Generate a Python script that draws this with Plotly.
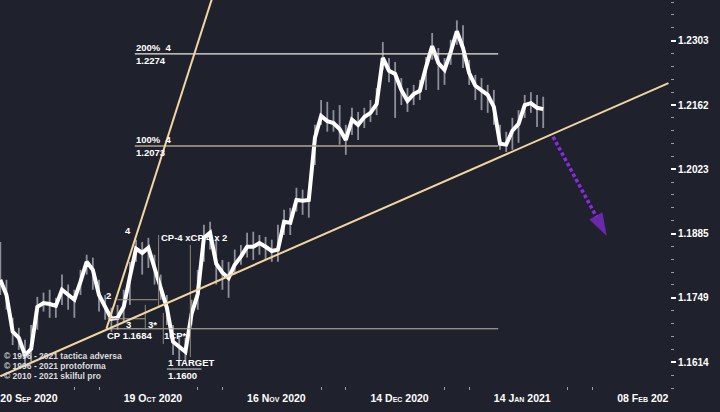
import numpy as np
import plotly.graph_objects as go

# ---------------- data ----------------
close = [1.1787, 1.1755, 1.1678, 1.1665, 1.1629, 1.1642, 1.1730, 1.1738, 1.1736, 1.1732,
         1.1766, 1.1755, 1.1745, 1.1783, 1.1825, 1.1808, 1.1755, 1.1730, 1.1705, 1.1707,
         1.1730, 1.1793, 1.1853, 1.1844, 1.1855, 1.1812, 1.1770, 1.1728, 1.1657, 1.1646,
         1.1636, 1.1715, 1.1757, 1.1876, 1.1887, 1.1821, 1.1802, 1.1791, 1.1819, 1.1836,
         1.1857, 1.1857, 1.1865, 1.1857, 1.1848, 1.1851, 1.1910, 1.1908, 1.1957, 1.1955,
         1.1957, 1.2091, 1.2138, 1.2127, 1.2123, 1.2110, 1.2086, 1.2130, 1.2119, 1.2136,
         1.2145, 1.2164, 1.2265, 1.2237, 1.2230, 1.2195, 1.2171, 1.2186, 1.2193, 1.2245,
         1.2291, 1.2254, 1.2239, 1.2278, 1.2324, 1.2287, 1.2232, 1.2204, 1.2193, 1.2184,
         1.2158, 1.2078, 1.2076, 1.2106, 1.2121, 1.2162, 1.2166, 1.2156, 1.2153]
high = [1.1867, 1.1787, 1.1707, 1.1686, 1.1661, 1.1692, 1.1751, 1.1760, 1.1766, 1.1749,
        1.1798, 1.1777, 1.1766, 1.1808, 1.1840, 1.1834, 1.1787, 1.1755, 1.1728, 1.1734,
        1.1766, 1.1825, 1.1872, 1.1867, 1.1876, 1.1840, 1.1798, 1.1755, 1.1692, 1.1671,
        1.1665, 1.1745, 1.1808, 1.1904, 1.1910, 1.1872, 1.1829, 1.1825, 1.1851, 1.1861,
        1.1887, 1.1889, 1.1882, 1.1878, 1.1872, 1.1904, 1.1936, 1.1940, 1.1983, 1.1979,
        1.1979, 1.2119, 1.2173, 1.2169, 1.2151, 1.2162, 1.2119, 1.2156, 1.2147, 1.2156,
        1.2173, 1.2199, 1.2300, 1.2265, 1.2256, 1.2221, 1.2199, 1.2206, 1.2217, 1.2267,
        1.2320, 1.2287, 1.2265, 1.2305, 1.2348, 1.2337, 1.2261, 1.2228, 1.2221, 1.2206,
        1.2195, 1.2119, 1.2104, 1.2134, 1.2151, 1.2184, 1.2190, 1.2184, 1.2180]
low = [1.1755, 1.1724, 1.1650, 1.1640, 1.1608, 1.1615, 1.1682, 1.1720, 1.1707, 1.1707,
       1.1734, 1.1724, 1.1707, 1.1755, 1.1798, 1.1766, 1.1720, 1.1703, 1.1678, 1.1682,
       1.1699, 1.1734, 1.1825, 1.1798, 1.1812, 1.1777, 1.1745, 1.1692, 1.1629, 1.1619,
       1.1615, 1.1692, 1.1724, 1.1825, 1.1851, 1.1777, 1.1766, 1.1749, 1.1798, 1.1819,
       1.1834, 1.1829, 1.1840, 1.1829, 1.1825, 1.1825, 1.1882, 1.1882, 1.1932, 1.1925,
       1.1919, 1.2032, 1.2119, 1.2104, 1.2104, 1.2076, 1.2054, 1.2097, 1.2086, 1.2112,
       1.2125, 1.2140, 1.2239, 1.2212, 1.2134, 1.2162, 1.2147, 1.2162, 1.2173, 1.2195,
       1.2261, 1.2195, 1.2206, 1.2250, 1.2294, 1.2243, 1.2206, 1.2173, 1.2151, 1.2145,
       1.2119, 1.2065, 1.2060, 1.2065, 1.2080, 1.2134, 1.2145, 1.2114, 1.2112]
bar_index = list(range(len(close)))

x_tick_index = [0, 20, 40, 60, 80, 100]
x_tick_text = ["20 Sep 2020", "19 Oct 2020", "16 Nov 2020", "14 Dec 2020", "14 Jan 2021", "08 Feb 202"]
x_minor_index = [12, 16, 32, 36, 52, 56, 72, 76, 92, 96]
y_tick_values = [1.1614, 1.1749, 1.1885, 1.2023, 1.2162, 1.2303]

# analysis drawing
cp_index, cp_price = 17.2, 1.1684
trend_x, trend_y = [0.0, 108.3], [1.1585, 1.2210]
steep_x, steep_y = [17.2, 34.8], [1.1684, 1.2417]
fib_labels = ["200%  4", "100%  4"]
fib_values = [1.2274, 1.2073]
fib_x = [21.8, 80.7]
cp_line_x = [17.2, 80.7]
short_lines = [([19.0, 25.5], 1.1745), ([17.4, 23.5], 1.1705)]
vert_lines = [(25.66, 1.1728, 1.1882), (23.5, 1.1682, 1.1734), (26.42, 1.1652, 1.1717), (30.8, 1.1625, 1.1861)]
target_price = 1.1600
target_x = [27.0, 32.6]
wave_labels = [("2", 17.5, 1.1753), ("4", 20.7, 1.1891), ("3", 20.7, 1.1692), ("3*", 24.6, 1.1692)]
arrow_x, arrow_y = [89.6, 98.3], [1.2093, 1.1880]
copyright_lines = ["© 1996 - 2021 tactica adversa", "© 1996 - 2021 protoforma", "© 2010 - 2021 skilful pro"]

# ---------------- styling ----------------
BG = "#1f222c"
TAN = "#f2d6a0"
FONT = "Liberation Sans"
PLOT_H = 390
LOG_TOP = 0.093180
LOG_PER_PX = 0.00007783

fig = go.Figure()

# high-low bars
bx, by = [], []
for i, h, l in zip(bar_index, high, low):
    bx += [i, i, None]
    by += [l, h, None]
fig.add_trace(go.Scatter(x=bx, y=by, mode="lines", line=dict(color="rgba(215,218,228,0.6)", width=1.8),
                         hoverinfo="skip"))

# close line
fig.add_trace(go.Scatter(x=bar_index, y=close, mode="lines",
                         line=dict(color="#ffffff", width=4)))

# horizontal levels
fig.add_trace(go.Scatter(x=fib_x, y=[fib_values[0]] * 2, mode="lines", line=dict(color="#eceae4", width=1.2)))
fig.add_trace(go.Scatter(x=fib_x, y=[fib_values[1]] * 2, mode="lines", line=dict(color="#b2a58e", width=1.6)))
fig.add_trace(go.Scatter(x=cp_line_x, y=[cp_price] * 2, mode="lines", line=dict(color="#bdb7aa", width=1)))
for xs, p in short_lines:
    fig.add_trace(go.Scatter(x=xs, y=[p] * 2, mode="lines", line=dict(color="#a59b88", width=1)))
vx, vy = [], []
for xv, lo_, hi_ in vert_lines:
    vx += [xv, xv, None]
    vy += [lo_, hi_, None]
fig.add_trace(go.Scatter(x=vx, y=vy, mode="lines", line=dict(color="#8f887a", width=1)))
fig.add_trace(go.Scatter(x=target_x, y=[target_price] * 2, mode="lines", line=dict(color="#d8d8d8", width=1)))

# trend lines
fig.add_trace(go.Scatter(x=trend_x, y=trend_y, mode="lines", line=dict(color=TAN, width=2)))
fig.add_trace(go.Scatter(x=steep_x, y=steep_y, mode="lines", line=dict(color=TAN, width=2)))

# projected arrow
fig.add_trace(go.Scatter(x=arrow_x, y=arrow_y, mode="lines+markers",
                         line=dict(color="#8a2be2", width=3.5, dash="3.5px,2.5px"),
                         marker=dict(symbol=["circle", "arrow"], size=[0, 24], color="#8a2be2",
                                     angleref="previous", line=dict(width=0))))

afont = dict(family=FONT, size=9.5, color="#ffffff", weight="bold")
ann = []
for lab, val in zip(fib_labels, fib_values):
    ann.append(dict(x=fib_x[0], y=np.log10(val), text=lab, xanchor="left", yanchor="bottom",
                    showarrow=False, font=afont, borderpad=0))
    ann.append(dict(x=fib_x[0], y=np.log10(val), text=f"{val:.4f}", xanchor="left", yanchor="top",
                    showarrow=False, font=afont, borderpad=0))
ann.append(dict(x=cp_index, y=np.log10(cp_price), text=f"CP {cp_price:.4f}", xanchor="left", yanchor="top",
                showarrow=False, font=afont, borderpad=0))
for t, xv, p in wave_labels:
    ann.append(dict(x=xv, y=np.log10(p), text=t, xanchor="center", yanchor="middle",
                    showarrow=False, font=afont, borderpad=0))
ann.append(dict(x=26.3, y=np.log10(cp_price), text="1CP*", xanchor="left", yanchor="top",
                showarrow=False, font=afont, borderpad=0))
ann.append(dict(x=25.9, y=np.log10(1.1876), text="CP-4 xCP 4 x 2", xanchor="left", yanchor="middle",
                showarrow=False, font=afont, borderpad=0))
ann.append(dict(x=target_x[0], y=np.log10(target_price), text="1 TARGET", xanchor="left", yanchor="bottom",
                showarrow=False, font=afont, borderpad=0))
ann.append(dict(x=target_x[0], y=np.log10(target_price), text=f"{target_price:.4f}", xanchor="left",
                yanchor="top", showarrow=False, font=afont, borderpad=0))
for k, line in enumerate(copyright_lines):
    ann.append(dict(xref="paper", yref="paper", x=0.004, y=(PLOT_H - 356 - 9.8 * k) / PLOT_H, text=line,
                    xanchor="left", yanchor="middle", showarrow=False, borderpad=0,
                    font=dict(family=FONT, size=8.5, color="#dcdcdc", weight="bold")))

# minor y ticks (4 between labels, extended beyond the ends)
minor_y = []
for a, b in zip(y_tick_values[:-1], y_tick_values[1:]):
    r = (b / a) ** 0.2
    minor_y += [a * r ** k for k in range(1, 5)]
r_top = (y_tick_values[-1] / y_tick_values[-2]) ** 0.2
minor_y += [y_tick_values[-1] * r_top ** k for k in range(1, 5)]
r_bot = (y_tick_values[1] / y_tick_values[0]) ** 0.2
minor_y += [y_tick_values[0] / r_bot ** k for k in range(1, 4)]

fig.update_layout(
    width=720, height=412, showlegend=False,
    paper_bgcolor=BG, plot_bgcolor=BG,
    margin=dict(l=0, r=50, t=0, b=412 - PLOT_H),
    annotations=ann,
    xaxis=dict(range=[-0.05, 108.55], showgrid=False, zeroline=False, showline=False,
               tickmode="array", tickvals=x_tick_index, ticktext=x_tick_text, ticks="",
               ticklabelposition="outside right",
               tickfont=dict(family=FONT, size=10.5, color="#ffffff", weight="bold", variant="small-caps"),
               minor=dict(tickmode="array", tickvals=x_minor_index, ticks="inside", ticklen=3,
                          tickcolor="#9a9ca6", tickwidth=1, showgrid=False)),
    yaxis=dict(type="log", side="right", range=[LOG_TOP - PLOT_H * LOG_PER_PX, LOG_TOP],
               showgrid=False, zeroline=False, showline=False,
               tickmode="array", tickvals=y_tick_values, ticktext=[f"{v:.4f}" for v in y_tick_values],
               ticks="outside", ticklen=5, tickcolor="#ffffff", tickwidth=1.5,
               tickfont=dict(family=FONT, size=10, color="#ffffff", weight="bold"),
               minor=dict(tickmode="array", tickvals=minor_y, ticks="outside", ticklen=3,
                          tickcolor="#9a9ca6", tickwidth=1, showgrid=False)),
)

fig.write_html("out.html", config={"displayModeBar": False},
               post_script="document.body.style.margin='0px';document.body.style.background='%s';" % BG)
